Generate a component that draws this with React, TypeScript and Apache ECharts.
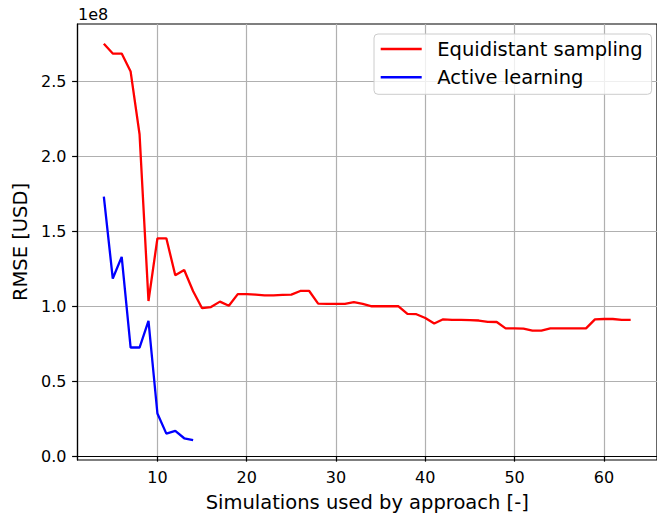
import React, { useEffect, useRef } from "react";
import * as echarts from "echarts";

// Number of simulations used (x) and RMSE in units of 1e8 USD (y)
const EQUI_X = [
  4, 5, 6, 7, 8, 9, 10, 11, 12, 13, 14, 15, 16, 17, 18, 19, 20, 21, 22, 23,
  24, 25, 26, 27, 28, 29, 30, 31, 32, 33, 34, 35, 36, 37, 38, 39, 40, 41, 42, 43,
  44, 45, 46, 47, 48, 49, 50, 51, 52, 53, 54, 55, 56, 57, 58, 59, 60, 61, 62, 63,
];
const EQUI_Y = [
  2.75, 2.685, 2.685, 2.565, 2.147, 1.035, 1.453, 1.453, 1.207, 1.242,
  1.1, 0.987, 0.995, 1.031, 1.003, 1.081, 1.081, 1.078, 1.073, 1.073,
  1.076, 1.078, 1.102, 1.102, 1.018, 1.016, 1.016, 1.016, 1.027, 1.016,
  1.0, 1.0, 1.0, 1.0, 0.949, 0.947, 0.922, 0.885, 0.913, 0.909,
  0.909, 0.907, 0.905, 0.896, 0.895, 0.853, 0.853, 0.851, 0.838, 0.838,
  0.853, 0.853, 0.853, 0.853, 0.853, 0.913, 0.915, 0.915, 0.909, 0.909,
];
const ACTIVE_X = [4, 5, 6, 7, 8, 9, 10, 11, 12, 13, 14];
const ACTIVE_Y = [1.731, 1.185, 1.329, 0.725, 0.725, 0.902, 0.285, 0.151, 0.169, 0.12, 0.107];

const X_TICKS = [10, 20, 30, 40, 50, 60];
const Y_TICKS = [0, 0.5, 1.0, 1.5, 2.0, 2.5];
const SERIES_NAMES = ["Equidistant sampling", "Active learning"];
const X_TITLE = "Simulations used by approach [-]";
const Y_TITLE = "RMSE [USD]";
const OFFSET_TEXT = "1e8";

const FONT = "DejaVu Sans";

export default function App() {
  const ref = useRef<HTMLDivElement>(null);
  useEffect(() => {
    if (!ref.current) return;
    const chart = echarts.init(ref.current, undefined, { renderer: "svg" });
    const pair = (xs: number[], ys: number[]) => xs.map((x, i) => [x, ys[i]]);
    chart.setOption({
      animation: false,
      backgroundColor: "#ffffff",
      textStyle: { fontFamily: FONT },
      grid: {
        left: 77.5,
        top: 24,
        right: -4.9,
        bottom: 56,
        show: true,
        borderColor: "#000000",
        borderWidth: 1.2,
        backgroundColor: "transparent",
      },
      xAxis: {
        type: "value",
        min: 1.05,
        max: 65.95,
        name: X_TITLE,
        nameLocation: "middle",
        nameGap: 32,
        nameTextStyle: { fontFamily: FONT, fontSize: 19.5, color: "#000" },
        axisLine: { show: true, lineStyle: { color: "#000", width: 1.2 } },
        axisTick: { show: true, length: 5.4, customValues: X_TICKS, lineStyle: { color: "#000", width: 1.2 } },
        axisLabel: {
          customValues: X_TICKS,
          margin: 9,
          fontFamily: FONT,
          fontSize: 16,
          color: "#000",
          formatter: (v: number) => String(v),
        },
        splitLine: { show: true, lineStyle: { color: "#b0b0b0", width: 1.2 } },
      },
      yAxis: {
        type: "value",
        min: -0.025,
        max: 2.882,
        name: Y_TITLE,
        nameLocation: "middle",
        nameGap: 45,
        nameRotate: 90,
        nameTextStyle: { fontFamily: FONT, fontSize: 19.5, color: "#000" },
        axisLine: { show: true, lineStyle: { color: "#000", width: 1.2 } },
        axisTick: { show: true, length: 5.4, customValues: Y_TICKS, lineStyle: { color: "#000", width: 1.2 } },
        axisLabel: {
          customValues: Y_TICKS,
          margin: 11,
          fontFamily: FONT,
          fontSize: 16,
          color: "#000",
          formatter: (v: number) => v.toFixed(1),
        },
        splitLine: { show: true, lineStyle: { color: "#b0b0b0", width: 1.2 } },
      },
      legend: {
        orient: "vertical",
        left: 374,
        top: 34,
        padding: [5, 9, 7, 6.7],
        itemGap: 8.3,
        itemWidth: 41,
        itemHeight: 2.4,
        icon: "rect",
        backgroundColor: "rgba(255,255,255,0.8)",
        borderColor: "#cccccc",
        borderWidth: 1,
        borderRadius: 4,
        textStyle: {
          fontFamily: FONT,
          fontSize: 19.5,
          lineHeight: 20,
          color: "#000",
          padding: [0, 0, 0, 10.6],
        },
        data: SERIES_NAMES,
      },
      graphic: [
        {
          type: "text",
          left: 78,
          top: 6,
          style: { text: OFFSET_TEXT, fontFamily: FONT, fontSize: 16, fill: "#000" },
        },
      ],
      series: [
        {
          name: SERIES_NAMES[0],
          type: "line",
          data: pair(EQUI_X, EQUI_Y),
          symbol: "none",
          color: "#ff0000",
          lineStyle: { color: "#ff0000", width: 2.3 },
        },
        {
          name: SERIES_NAMES[1],
          type: "line",
          data: pair(ACTIVE_X, ACTIVE_Y),
          symbol: "none",
          color: "#0000ff",
          lineStyle: { color: "#0000ff", width: 2.3 },
        },
      ],
    });
    return () => chart.dispose();
  }, []);
  return (
    <div
      ref={ref}
      style={{ position: "absolute", left: 0, top: 0, width: 657, height: 517, overflow: "hidden" }}
    />
  );
}
